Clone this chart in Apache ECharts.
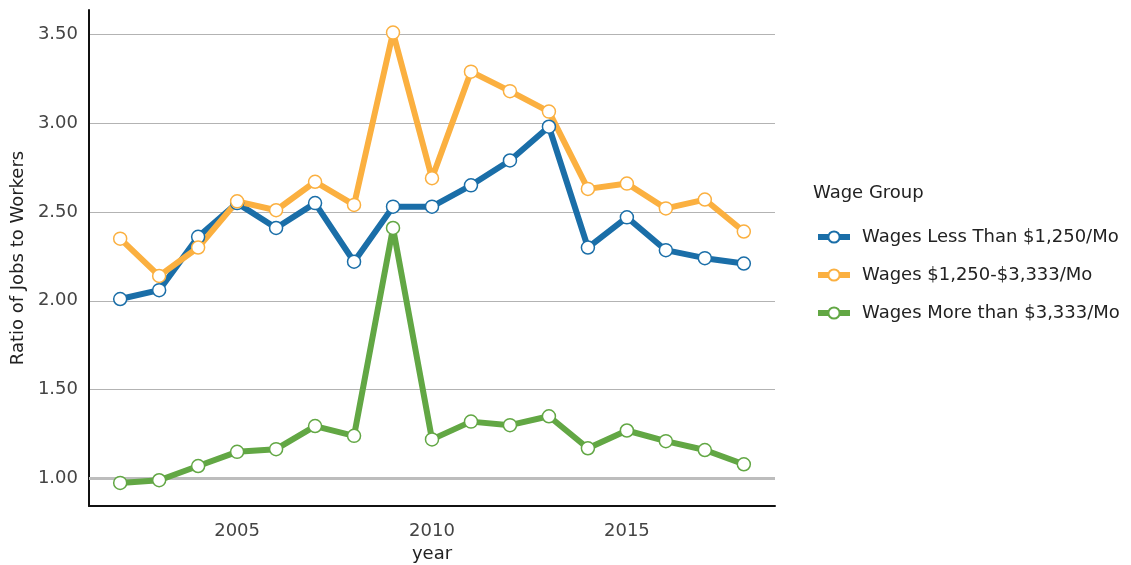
<!DOCTYPE html>
<html>
<head>
<meta charset="utf-8">
<script src="https://cdn.jsdelivr.net/npm/echarts@6/dist/echarts.min.js"></script>
<style>html,body{margin:0;padding:0;background:#fff;}#c{width:1131px;height:565px;}</style>
</head>
<body>
<div id="c"></div>
<script>
const years = [2002,2003,2004,2005,2006,2007,2008,2009,2010,2011,2012,2013,2014,2015,2016,2017,2018];
const lowWage  = [2.01,2.06,2.36,2.55,2.41,2.55,2.22,2.53,2.53,2.65,2.79,2.98,2.30,2.47,2.285,2.24,2.21];
const midWage  = [2.35,2.14,2.30,2.56,2.51,2.67,2.54,3.51,2.69,3.29,3.18,3.065,2.63,2.66,2.52,2.57,2.39];
const highWage = [0.975,0.99,1.07,1.15,1.165,1.295,1.24,2.41,1.22,1.32,1.30,1.35,1.17,1.27,1.21,1.16,1.08];
const seriesNames = ['Wages Less Than $1,250/Mo','Wages $1,250-$3,333/Mo','Wages More than $3,333/Mo'];
const xTicks = [2005,2010,2015];
const yTicks = [1.0,1.5,2.0,2.5,3.0,3.5];
const colors = ['#1a6ea8','#fbb040','#62a744'];

const font = 'DejaVu Sans';
function mk(name, vals, color){
  return {
    name: name, type: 'line',
    data: years.map((y,i)=>[y, vals[i]]),
    symbol: 'circle', symbolSize: 13,
    lineStyle: {width: 6, color: color},
    itemStyle: {color: '#fff', borderColor: color, borderWidth: 1.5},
    emphasis: {disabled: true},
    z: 3
  };
}
const chart = echarts.init(document.getElementById('c'), null, {renderer:'canvas'});
const s = [mk(seriesNames[0], lowWage, colors[0]), mk(seriesNames[1], midWage, colors[1]), mk(seriesNames[2], highWage, colors[2])];
s[2].markLine = {
  silent: true, symbol: 'none', label: {show:false},
  lineStyle: {color: '#bdbdbd', width: 3, type: 'solid'},
  data: [{yAxis: 1.0}], z: 1
};
chart.setOption({
  animation: false,
  color: colors,
  title: {text: 'Wage Group', left: 808, top: 179, textStyle: {fontFamily: font, fontSize: 18, fontWeight: 'normal', color: '#222'}},
  legend: {
    orient: 'vertical', left: 810, top: 223, itemWidth: 32, itemHeight: 14, itemGap: 20,
    lineStyle: {width: 6},
    textStyle: {fontFamily: font, fontSize: 18, color: '#222', padding: [0,0,0,7]},
    data: seriesNames
  },
  grid: {left: 89, right: 356, top: 10, bottom: 59, containLabel: false, outerBoundsMode: 'none'},
  xAxis: {
    type: 'value', min: 2001.2, max: 2018.8,
    name: 'year', nameLocation: 'middle', nameGap: 39,
    nameTextStyle: {fontFamily: font, fontSize: 18, color: '#222'},
    axisLine: {show: true, lineStyle: {color: '#111', width: 2}},
    axisTick: {show: false},
    splitLine: {show: false},
    axisLabel: {customValues: xTicks, fontFamily: font, fontSize: 18, color: '#444', margin: 16, formatter: v => String(v)}
  },
  yAxis: {
    type: 'value', min: 0.845, max: 3.637,
    name: 'Ratio of Jobs to Workers', nameLocation: 'middle', nameGap: 56,
    nameTextStyle: {fontFamily: font, fontSize: 18, color: '#222'},
    axisLine: {show: true, lineStyle: {color: '#111', width: 2}},
    axisTick: {show: false, customValues: yTicks},
    splitLine: {show: true, lineStyle: {color: '#b3b3b3', width: 1}},
    axisLabel: {customValues: yTicks, fontFamily: font, fontSize: 18, color: '#444', margin: 11, formatter: v => v.toFixed(2)}
  },
  series: s
});
</script>
</body>
</html>
